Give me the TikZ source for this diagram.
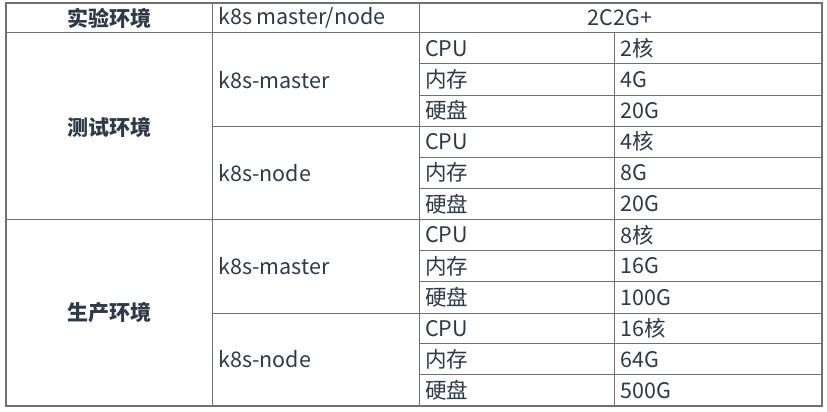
\documentclass[tikz,border=0pt]{standalone}
\usepackage{fontspec}
\setmainfont{Noto Sans CJK SC}
\definecolor{txt}{HTML}{2E3A48}
\definecolor{grid}{HTML}{707070}
\begin{document}
\begin{tikzpicture}[x=1pt,y=-1pt,
  cell/.style={font=\fontsize{21.5}{24}\selectfont, text=txt, inner sep=0pt},
  lcell/.style={cell, anchor=west},
  bcell/.style={cell, font=\fontsize{21}{24}\selectfont\bfseries}]
\useasboundingbox (0,0) rectangle (827,412);
\fill[white] (0,0) rectangle (827,412);
% grid
\draw[grid, line width=1.2pt] (6,3) rectangle (822,406);
\draw[grid, line width=1pt] (6,33) -- (822,33);
\draw[grid, line width=1pt] (6,219) -- (822,219);
\draw[grid, line width=1pt] (212,126) -- (822,126);
\draw[grid, line width=1pt] (212,313) -- (822,313);
\foreach \y in {64,95,157,188,250,281,343,374} \draw[grid, line width=1pt] (419,\y) -- (822,\y);
\draw[grid, line width=1pt] (212,3) -- (212,406);
\draw[grid, line width=1pt] (419,3) -- (419,406);
\draw[grid, line width=1pt] (614,33) -- (614,406);
% header
\node[bcell] (h1) at (109,18) {实验环境};
\node[lcell] (h2) at (218,18) {k8s master/node};
\node[cell] (h3) at (620,18) {2C2G+};
% group labels
\node[bcell] (g1) at (109,127) {测试环境};
\node[bcell] (g2) at (109,313) {生产环境};
\node[lcell] (m1) at (218,80) {k8s-master};
\node[lcell] (n1) at (218,173) {k8s-node};
\node[lcell] (m2) at (218,266) {k8s-master};
\node[lcell] (n2) at (218,359) {k8s-node};
% items
\foreach \i/\k/\v in {0/CPU/2核,1/内存/4G,2/硬盘/20G,3/CPU/4核,4/内存/8G,5/硬盘/20G,6/CPU/8核,7/内存/16G,8/硬盘/100G,9/CPU/16核,10/内存/64G,11/硬盘/500G}{
  \node[lcell] (k\i) at (425,{48.5+31.08*\i}) {\k};
  \node[lcell] (v\i) at (620,{48.5+31.08*\i}) {\v};
}
\end{tikzpicture}
\end{document}
